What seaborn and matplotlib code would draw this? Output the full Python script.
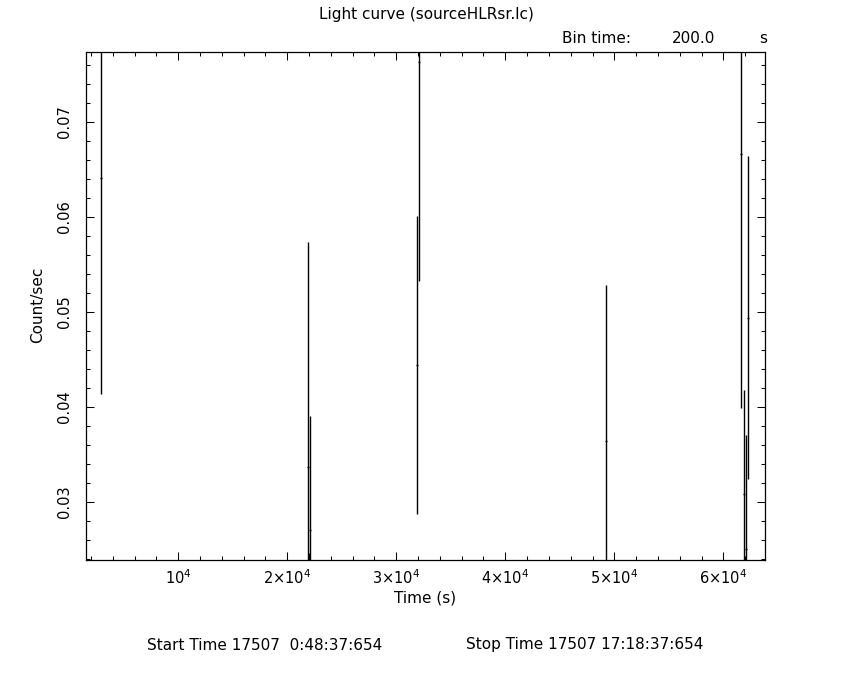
import seaborn as sns
import matplotlib
matplotlib.use('Agg')
from matplotlib import pyplot as plt
from matplotlib.ticker import MultipleLocator, FixedLocator

# light curve bins (s), count rate and 1-sigma error
times = [2900, 21930, 22020, 22110, 31930, 32110, 49270, 61650, 61930, 62110, 62290]
rates = [0.0641, 0.03365, 0.0242, 0.0270, 0.0444, 0.0763, 0.0364, 0.0666, 0.0308, 0.0250, 0.0494]
errs = [0.0227, 0.0237, 0.0004, 0.0120, 0.0157, 0.0231, 0.0164, 0.0267, 0.0110, 0.0120, 0.0170]
half_bin = 100.0

xtick_vals = [10000, 20000, 30000, 40000, 50000, 60000]
xtick_text = [r'$10^4$', r'$2{\times}10^4$', r'$3{\times}10^4$', r'$4{\times}10^4$',
              r'$5{\times}10^4$', r'$6{\times}10^4$']
ytick_vals = [0.03, 0.04, 0.05, 0.06, 0.07]
ytick_text = ['0.03', '0.04', '0.05', '0.06', '0.07']

sns.set_style("ticks", {'text.color': 'black', 'axes.labelcolor': 'black',
                        'xtick.color': 'black', 'ytick.color': 'black',
                        'axes.edgecolor': 'black'})
plt.rcParams['font.family'] = ['DejaVu Sans']

fig = plt.figure(figsize=(8.5, 6.8), dpi=100)
ax = fig.add_axes([85.7 / 850, 1 - 560 / 680, (764.7 - 85.7) / 850, (560 - 51.7) / 680])

ax.errorbar(times, rates, yerr=errs, xerr=half_bin, fmt='none',
            ecolor='black', elinewidth=1.0, capsize=0)

ax.set_xlim(1505, 63798)
ax.set_ylim(0.02389, 0.07737)

ax.xaxis.set_major_locator(FixedLocator(xtick_vals))
ax.set_xticklabels(xtick_text, fontsize=10.5, color='black')
ax.xaxis.set_minor_locator(MultipleLocator(2000))
ax.yaxis.set_major_locator(FixedLocator(ytick_vals))
ax.set_yticklabels(ytick_text, fontsize=10.5, color='black')
ax.yaxis.set_minor_locator(MultipleLocator(0.002))
for lab in ax.get_yticklabels():
    lab.set_rotation(90)
    lab.set_va('center')

ax.tick_params(which='both', direction='in', top=True, right=True, width=0.75, colors='black')
ax.tick_params(which='major', length=6)
ax.tick_params(which='minor', length=3)
ax.tick_params(axis='x', which='major', pad=6)
ax.tick_params(axis='y', which='major', pad=10)
for sp in ax.spines.values():
    sp.set_visible(True)
    sp.set_linewidth(0.9)
    sp.set_color('black')

def fx(px):
    return px / 850

def fy(py):
    return 1 - py / 680

txt = dict(fontsize=11, color='black', va='center')
fig.text(fx(426), fy(15), 'Light curve (sourceHLRsr.lc)', ha='center', **txt)
fig.text(fx(561.7), fy(38.5), 'Bin time:', ha='left', **txt)
fig.text(fx(715), fy(38.5), '200.0', ha='right', **txt)
fig.text(fx(762.7), fy(38.5), 's', ha='center', **txt)
fig.text(fx(425), fy(598), 'Time (s)', ha='center', **txt)
fig.text(fx(38), fy(305), 'Count/sec', ha='center', rotation=90, **txt)
fig.text(fx(147), fy(645), 'Start Time 17507  0:48:37:654', ha='left', **txt)
fig.text(fx(703), fy(645), 'Stop Time 17507 17:18:37:654', ha='right', **txt)

fig.savefig('out.png', dpi=100, facecolor='white')
